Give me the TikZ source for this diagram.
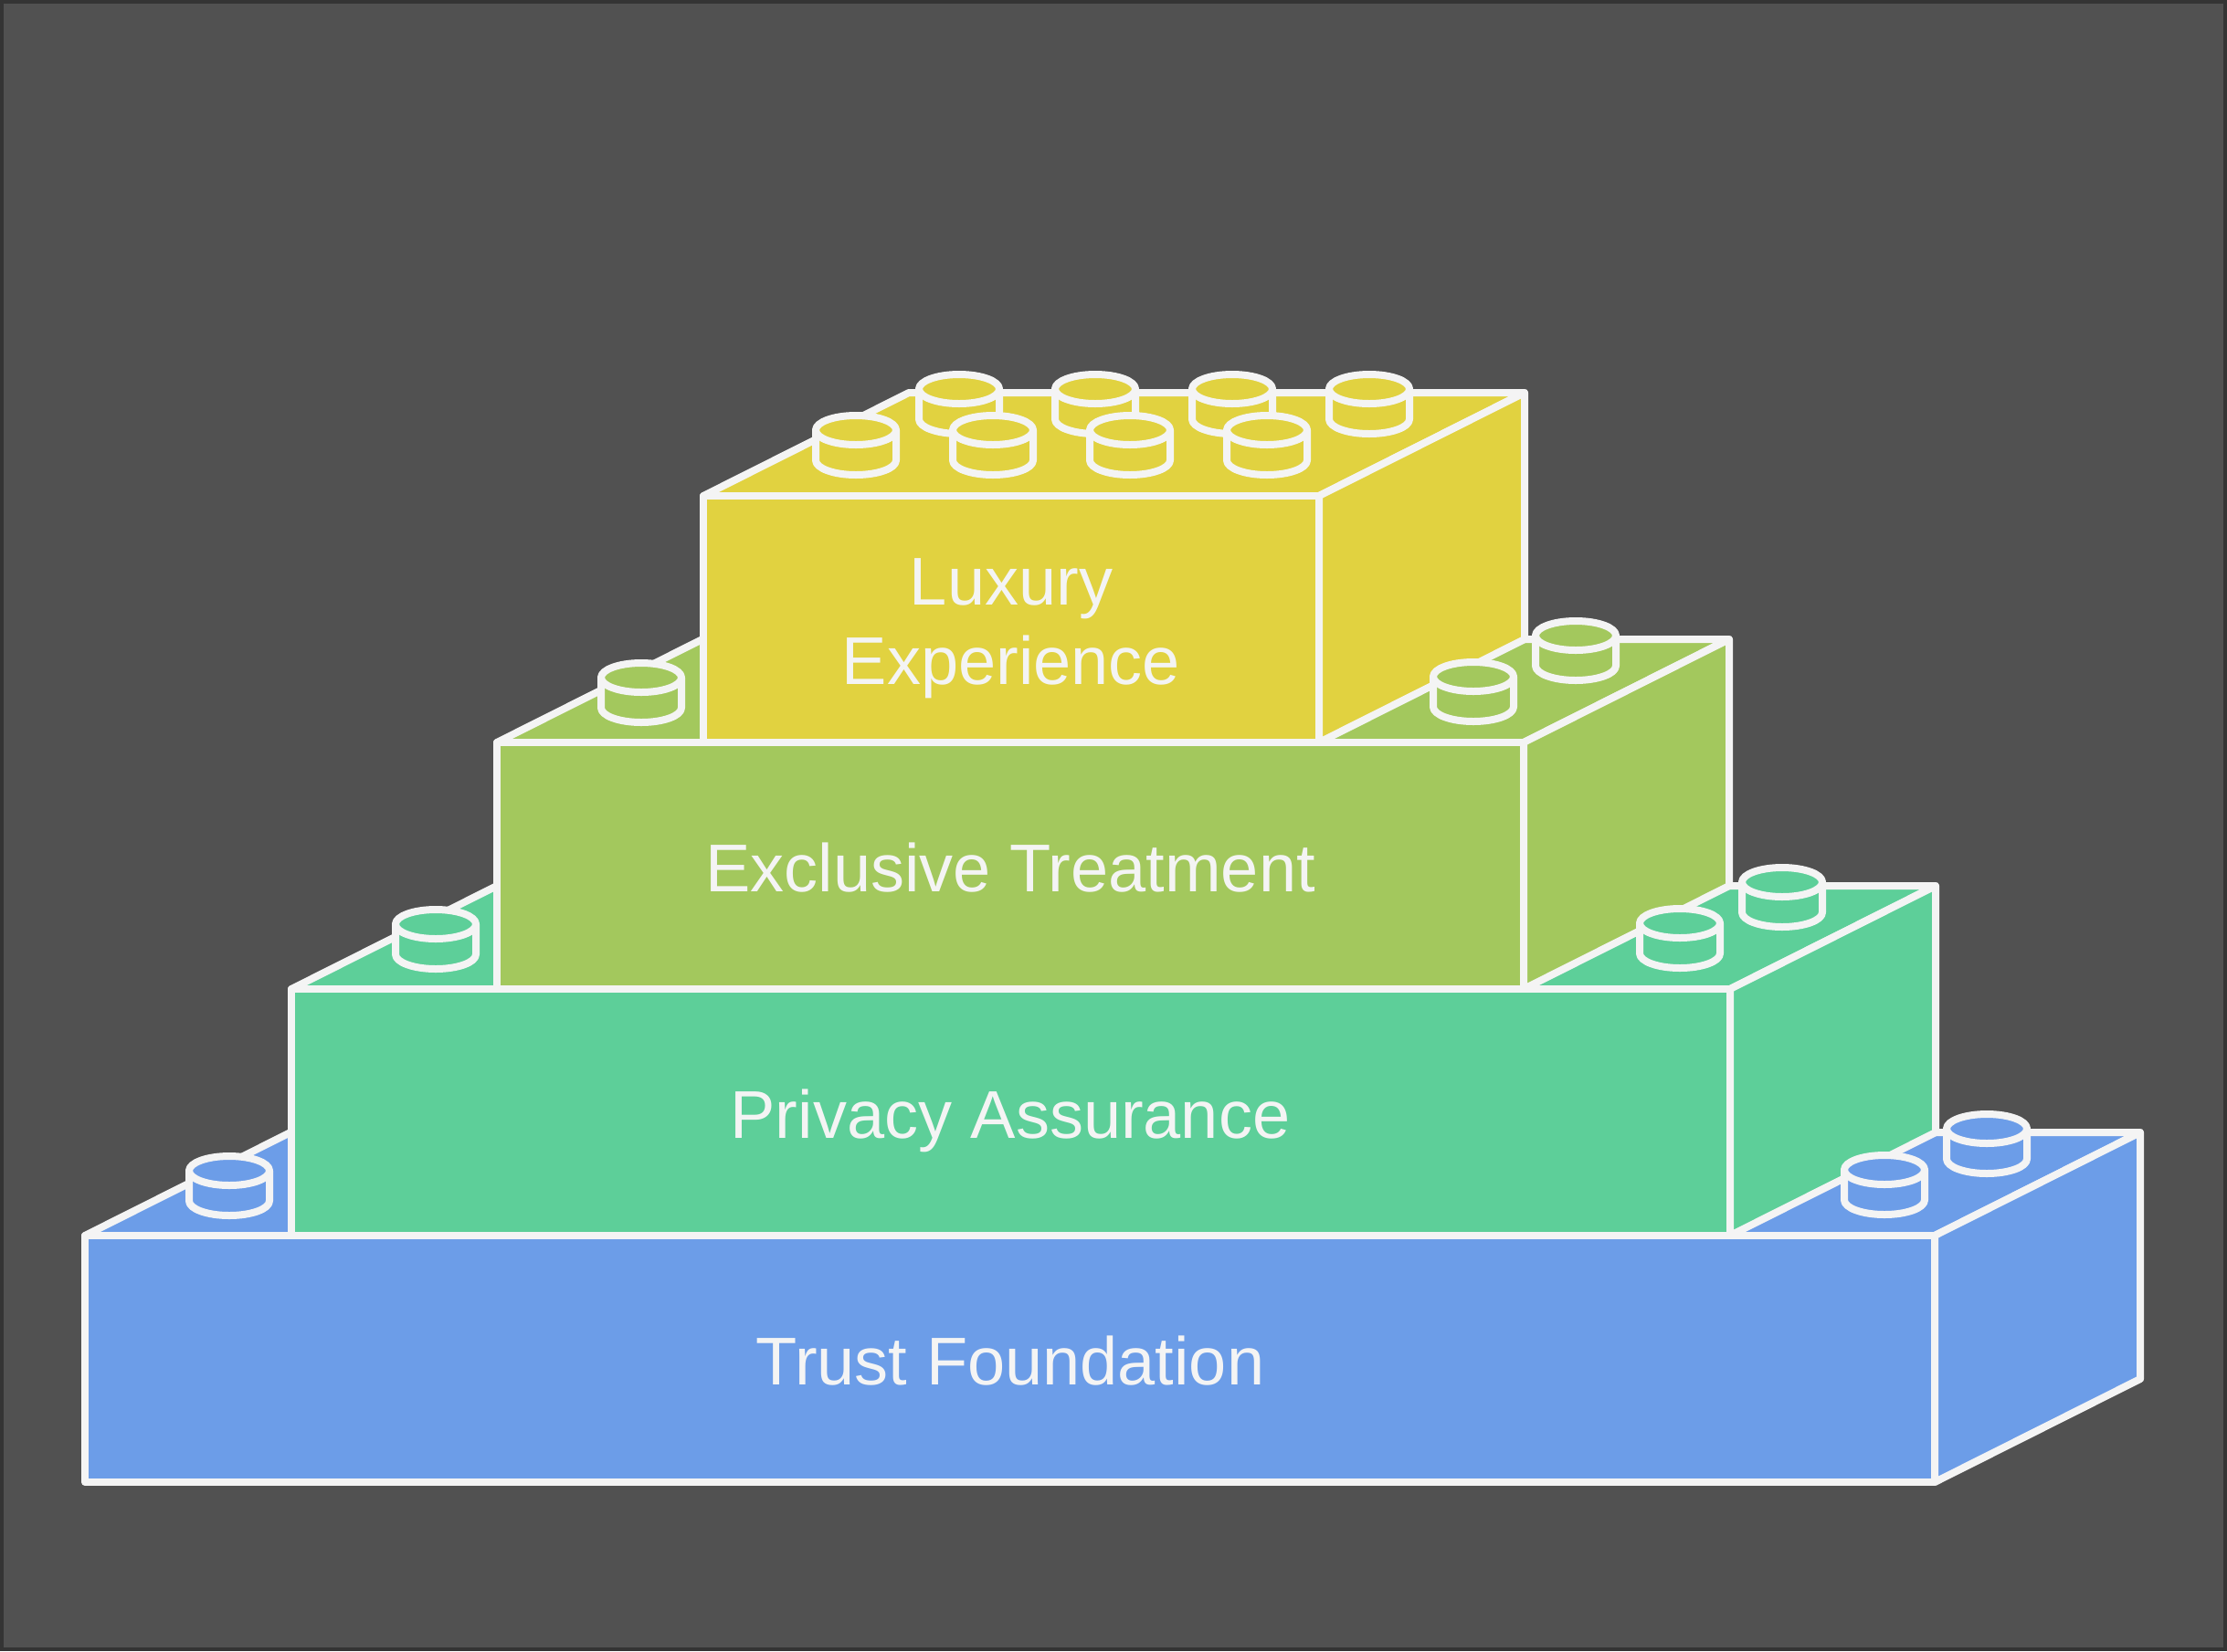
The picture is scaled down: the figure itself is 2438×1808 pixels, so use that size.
\documentclass[tikz,border=0pt]{standalone}
\usepackage{fontspec}
\setmainfont{Liberation Sans}
\definecolor{bgc}{RGB}{81,81,81}
\definecolor{framec}{RGB}{52,52,52}
\definecolor{linec}{RGB}{244,244,244}
\definecolor{bluec}{RGB}{108,157,232}
\definecolor{greenc}{RGB}{93,207,153}
\definecolor{limec}{RGB}{163,200,93}
\definecolor{yellowc}{RGB}{225,210,64}
\tikzset{
  edge/.style={draw=linec, line width=8pt, line join=round, line cap=round},
  label/.style={text=linec, font=\fontsize{74}{87}\selectfont, inner sep=0pt,
    text height=53pt, text depth=0pt},
}
% brick: L, T, R, colour
\newcommand{\mybrick}[4]{%
  \path[edge, fill=#4] (#1,#2) -- (#1+225,#2-113) -- (#3+225,#2-113) -- (#3,#2) -- cycle;
  \path[edge, fill=#4] (#3,#2) -- (#3+225,#2-113) -- (#3+225,#2+157) -- (#3,#2+270) -- cycle;
  \path[edge, fill=#4] (#1,#2) rectangle (#3,#2+270);
}
% stud: x, y (top ellipse centre), colour
\newcommand{\mystud}[3]{%
  \fill[#3] (#1-44,#2) -- (#1-44,#2+33) arc[start angle=180, end angle=0, x radius=44, y radius=16]
     -- (#1+44,#2) arc[start angle=0, end angle=-180, x radius=44, y radius=16] -- cycle;
  \draw[edge] (#1-44,#2) -- (#1-44,#2+33) arc[start angle=180, end angle=0, x radius=44, y radius=16] -- (#1+44,#2);
  \draw[edge] (#1,#2) ellipse [x radius=44, y radius=16];
}
\begin{document}
\begin{tikzpicture}[x=1pt, y=-1pt]
\useasboundingbox (0,0) rectangle (2438,1808);
\fill[framec] (0,0) rectangle (2438,1808);
\fill[bgc] (4,4) rectangle (2434,1804);
% bricks
\mybrick{93}{1353}{2118}{bluec}
\mybrick{319}{1083}{1894}{greenc}
\mybrick{544}{813}{1668}{limec}
\mybrick{770}{543}{1444}{yellowc}
% studs blue
\mystud{251}{1282}{bluec}
\mystud{2175}{1236}{bluec}
\mystud{2063}{1281}{bluec}
% studs green
\mystud{477}{1012}{greenc}
\mystud{1951}{966}{greenc}
\mystud{1839}{1011}{greenc}
% studs lime
\mystud{702}{742}{limec}
\mystud{1725}{696}{limec}
\mystud{1613}{741}{limec}
% studs yellow, back row
\mystud{1050}{426}{yellowc}
\mystud{1199}{426}{yellowc}
\mystud{1349}{426}{yellowc}
\mystud{1499}{426}{yellowc}
% front row
\mystud{937}{471}{yellowc}
\mystud{1087}{471}{yellowc}
\mystud{1237}{471}{yellowc}
\mystud{1387}{471}{yellowc}
% labels
\node[label] (lux1) at (1107,636) {Luxury};
\node[label] (lux2) at (1107,723) {Experience};
\node[label] (exc) at (1106,950) {Exclusive Treatment};
\node[label] (pri) at (1106,1220) {Privacy Assurance};
\node[label] (tru) at (1106,1490) {Trust Foundation};
\end{tikzpicture}
\end{document}
